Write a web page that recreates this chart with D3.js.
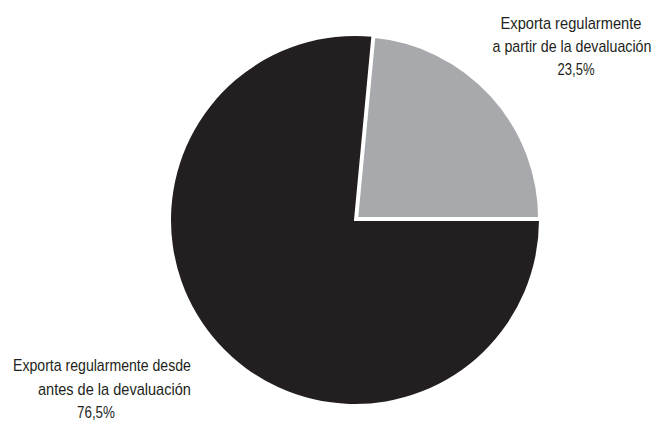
<!DOCTYPE html>
<html>
<head>
<meta charset="utf-8">
<script src="https://cdn.jsdelivr.net/npm/d3@7"></script>
<style>
  html, body { margin: 0; padding: 0; background: #fff; overflow: hidden; }
  svg { display: block; }
  text { font-family: "Liberation Sans", Arial, sans-serif; font-size: 16px; fill: #231f20; }
</style>
</head>
<body>
<svg id="chart" width="653" height="421"></svg>
<script>
// ---- data ----
const categories = [
  "Exporta regularmente a partir de la devaluación",
  "Exporta regularmente desde antes de la devaluación"
];
const values = [23.5, 76.5];
const valueLabels = ["23,5%", "76,5%"];
const labelLines = [
  ["Exporta regularmente", "a partir de la devaluación", valueLabels[0]],
  ["Exporta regularmente desde", "antes de la devaluación", valueLabels[1]]
];
const colors = ["#a7a9ac", "#231f20"];

// ---- layout ----
const svg = d3.select("#chart");
const cx = 355, cy = 220, r = 184;
const start = 5.4 * Math.PI / 180;

const pie = d3.pie().sort(null).value(d => d.value)
  .startAngle(start).endAngle(start + 2 * Math.PI);
const data = categories.map((c, i) => ({ name: c, value: values[i], color: colors[i] }));
const arcs = pie(data);
const arcGen = d3.arc().innerRadius(0).outerRadius(r);

const g = svg.append("g").attr("transform", `translate(${cx},${cy})`);
// draw dark (large) slice first, then gray slice on top with white border
[1, 0].forEach(i => {
  const a = arcs[i];
  const mid = (a.startAngle + a.endAngle) / 2;
  const off = i === 0 ? 1.5 : 0;
  g.append("path")
    .attr("d", arcGen(a))
    .attr("fill", a.data.color)
    .attr("stroke", i === 0 ? "#fff" : "none")
    .attr("stroke-width", i === 0 ? 4 : 0)
    .attr("transform", `translate(${off * Math.sin(mid)},${-off * Math.cos(mid)})`);
});

// ---- labels (condensed by horizontal scaling) ----
const labelSpecs = [
  { anchor: "middle", lines: [
    { x: 571, y: 28.5, w: 141 },
    { x: 572, y: 51.5, w: 159 },
    { x: 576, y: 74.5, w: 37 }
  ]},
  { anchor: "start", lines: [
    { x: 13, y: 371, w: 178 },
    { x: 38, y: 395, w: 153 },
    { x: 77, y: 417.5, w: 38 }
  ]}
];
labelSpecs.forEach((spec, i) => {
  spec.lines.forEach((ln, j) => {
    const t = svg.append("text")
      .attr("x", 0).attr("y", 0)
      .attr("text-anchor", spec.anchor)
      .text(labelLines[i][j]);
    const nat = t.node().getComputedTextLength();
    const sx = nat > 0 ? ln.w / nat : 1;
    t.attr("transform", `translate(${ln.x},${ln.y}) scale(${sx},1)`);
  });
});
</script>
</body>
</html>
